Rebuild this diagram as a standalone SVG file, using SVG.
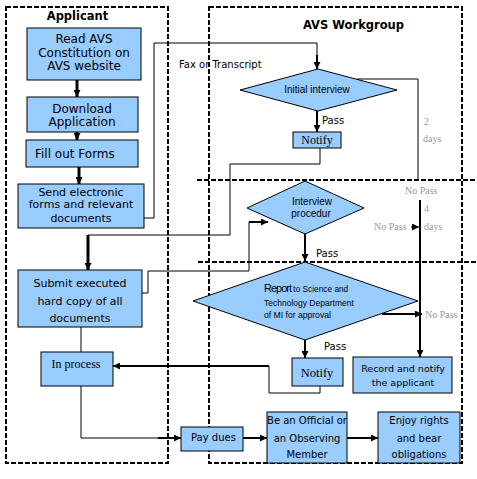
<svg xmlns="http://www.w3.org/2000/svg" width="477" height="479" viewBox="0 0 477 479">
<defs>
<marker id="ahs" viewBox="0 0 10 10" refX="10" refY="5" markerWidth="7" markerHeight="7" orient="auto" markerUnits="userSpaceOnUse"><path d="M0,0 L10,5 L0,10 z" fill="#000"/></marker>
</defs>
<style>
.lane{fill:none;stroke:#000;stroke-width:2;stroke-dasharray:5 2}
.box{fill:#99ccff;stroke:#000;stroke-width:1}
.t{font-family:"DejaVu Sans",Verdana,sans-serif;fill:#000;text-anchor:middle}
.n{font-family:"Liberation Sans",Arial,sans-serif;fill:#000}
.s{font-family:"Liberation Serif","Times New Roman",serif;fill:#000;text-anchor:middle}
.g{font-family:"Liberation Serif","Times New Roman",serif;fill:#999;font-size:10px}
.st{text-anchor:start}
.mid{text-anchor:middle}
.title{font-family:"DejaVu Sans",Verdana,sans-serif;font-weight:bold;font-size:11.5px;text-anchor:middle;fill:#000}
.thin{fill:none;stroke:#000;stroke-width:1}
.thick{fill:none;stroke:#000;stroke-width:2}
.thk3{fill:none;stroke:#000;stroke-width:3}
</style>
<g id="lanes">
<rect class="lane" x="6" y="7" width="162" height="456"/>
<rect class="lane" x="209" y="7" width="253" height="456"/>
<line class="lane" x1="197" y1="180" x2="476" y2="180"/>
<line class="lane" x1="198" y1="262" x2="476" y2="262"/>
<text class="title" x="77.5" y="20">Applicant</text>
<text class="title" x="353.5" y="29">AVS Workgroup</text>
</g>
<g id="connectors">
<path class="thk3" d="M77,80 V97" marker-end="url(#ahs)"/>
<path class="thk3" d="M77,132 V140" marker-end="url(#ahs)"/>
<path class="thk3" d="M79,167 V184" marker-end="url(#ahs)"/>
<path class="thin" d="M144,218 H154 V43 H317 V56"/>
<path class="thick" d="M317,55 V69" marker-end="url(#ahs)"/>
<path class="thick" d="M317,111 V132" marker-end="url(#ahs)"/>
<path class="thin" d="M320,148 V164 H230 V235 H88"/>
<path class="thk3" d="M88,235 V270" marker-end="url(#ahs)"/>
<path class="thin" d="M357,79 H418 V181"/>
<path class="thin" d="M411,227 H419" marker-end="url(#ahs)"/>
<path class="thick" d="M420,200 V357" marker-end="url(#ahs)"/>
<path class="thin" d="M142,293 H148 V271 H249 V222"/>
<path class="thick" d="M249,222 H268" marker-end="url(#ahs)"/>
<path class="thick" d="M305,233 V261" marker-end="url(#ahs)"/>
<path class="thick" d="M382,314 H422" marker-end="url(#ahs)"/>
<path class="thick" d="M305,340 V358" marker-end="url(#ahs)"/>
<path class="thin" d="M320,386 V393 H269 V366"/>
<path class="thick" d="M269,366 H113" marker-end="url(#ahs)"/>
<path class="thin" d="M81,327 V352"/>
<path class="thin" d="M81,386 V438 H160"/>
<path class="thick" d="M158,438 H181" marker-end="url(#ahs)"/>
<path class="thick" d="M243,438 H267" marker-end="url(#ahs)"/>
<path class="thick" d="M347,438 H378" marker-end="url(#ahs)"/>
<text class="t st" x="179" y="68" font-size="10">Fax or Transcript</text>
<text class="t st" x="322" y="124" font-size="10">Pass</text>
<text class="t st" x="316" y="257" font-size="10">Pass</text>
<text class="t st" x="324" y="350" font-size="10">Pass</text>
<text class="g" x="424" y="125">2</text>
<text class="g" x="423" y="142">days</text>
<text class="g" x="405" y="194">No Pass</text>
<text class="g" x="424" y="212">4</text>
<text class="g" x="424" y="230">days</text>
<text class="g" x="374" y="230">No Pass</text>
<text class="g" x="425" y="318">No Pass</text>
</g>
<g id="read">
<rect class="box" x="27" y="28" width="114" height="52"/>
<text class="t" font-size="12" x="84" y="43">Read AVS</text>
<text class="t" font-size="12" x="84" y="57">Constitution on</text>
<text class="t" font-size="12" x="84" y="70">AVS website</text>
</g>
<g id="download">
<rect class="box" x="27" y="97" width="111" height="35"/>
<text class="t" font-size="12" x="82" y="113">Download</text>
<text class="t" font-size="12" x="82" y="126">Application</text>
</g>
<g id="fill">
<rect class="box" x="26" y="140" width="112" height="27"/>
<text class="t st" font-size="12" x="35" y="158">Fill out Forms</text>
</g>
<g id="send">
<rect class="box" x="18" y="184" width="126" height="44"/>
<text class="t" font-size="11" x="81" y="196">Send electronic</text>
<text class="t" font-size="11" x="81" y="208">forms and relevant</text>
<text class="t" font-size="11" x="81" y="222">documents</text>
</g>
<g id="initial">
<polygon class="box" points="240,90 318,69 397,90 318,111"/>
<text class="n mid" font-size="10" x="317" y="93">Initial interview</text>
</g>
<g id="notify1">
<rect class="box" x="293" y="132" width="48" height="16"/>
<text class="s" font-size="12" x="317" y="144">Notify</text>
</g>
<g id="procedure">
<polygon class="box" points="247,208 305,181 364,208 305,234"/>
<text class="n mid" font-size="10" x="312" y="205">Interview</text>
<text class="n mid" font-size="10" x="311" y="217">procedur</text>
</g>
<g id="submit">
<rect class="box" x="18" y="270" width="124" height="57"/>
<text class="t" font-size="11" x="80" y="287">Submit executed</text>
<text class="t" font-size="11" x="80" y="305">hard copy of all</text>
<text class="t" font-size="11" x="80" y="322">documents</text>
</g>
<g id="report">
<polygon class="box" points="193,301 305,262 418,301 305,340"/>
<text class="n" x="264" y="292" font-size="8.3"><tspan font-size="11" letter-spacing="-1">Report</tspan> to Science and</text>
<text class="n" x="264" y="306" font-size="8.5">Technology Department</text>
<text class="n" x="264" y="318" font-size="8.6">of MI for approval</text>
</g>
<g id="notify2">
<rect class="box" x="292" y="358" width="51" height="28"/>
<text class="s" font-size="12.5" x="317" y="377">Notify</text>
</g>
<g id="record">
<rect class="box" x="353" y="357" width="99" height="36"/>
<text class="t" font-size="9.5" x="403" y="372">Record and notify</text>
<text class="t" font-size="9.5" x="403" y="386">the applicant</text>
</g>
<g id="inprocess">
<rect class="box" x="41" y="352" width="72" height="34"/>
<text class="s" font-size="12" x="76" y="368">In process</text>
</g>
<g id="paydues">
<rect class="box" x="181" y="427" width="62" height="24"/>
<text class="t st" font-size="10" x="191" y="441">Pay dues</text>
</g>
<g id="member">
<rect class="box" x="267" y="412" width="80" height="51"/>
<text class="t" font-size="10" x="307" y="424">Be an Official or</text>
<text class="t" font-size="10" x="307" y="442">an Observing</text>
<text class="t" font-size="10" x="307" y="458">Member</text>
</g>
<g id="enjoy">
<rect class="box" x="378" y="412" width="82" height="51"/>
<text class="t" font-size="10" x="419" y="424">Enjoy rights</text>
<text class="t" font-size="10" x="419" y="442">and bear</text>
<text class="t" font-size="10" x="419" y="458">obligations</text>
</g>
</svg>
